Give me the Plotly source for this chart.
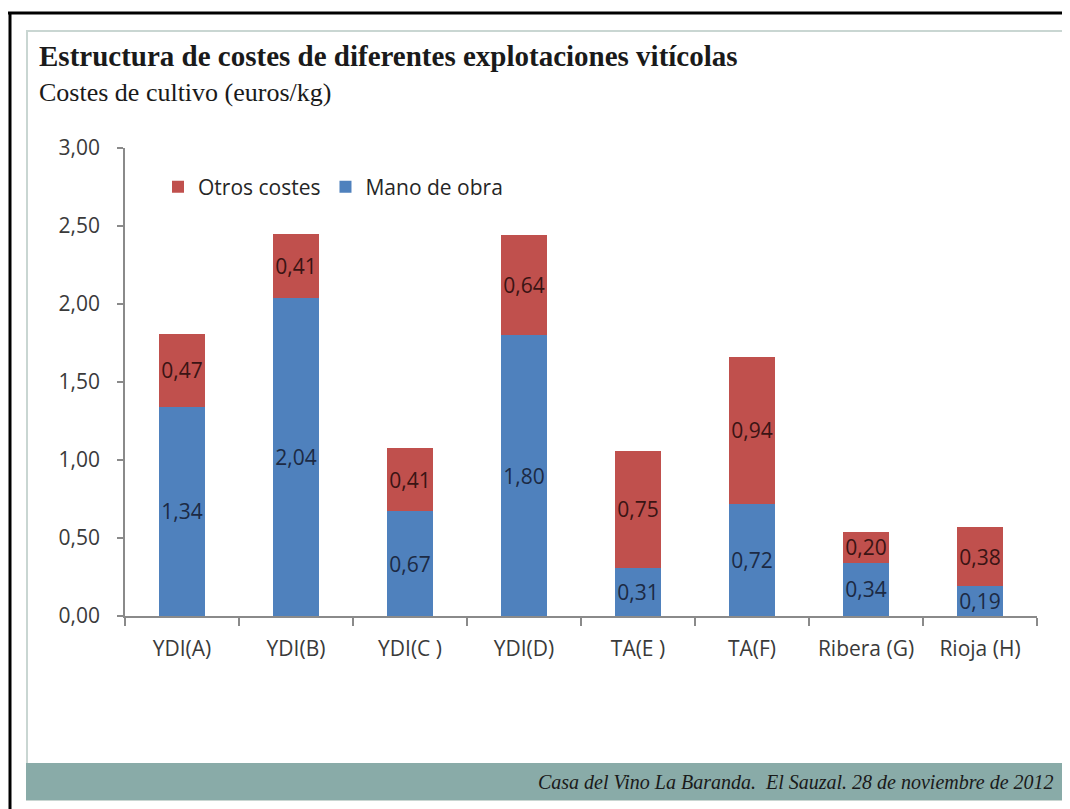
import plotly.graph_objects as go

categories = ["YDI(A)", "YDI(B)", "YDI(C )", "YDI(D)", "TA(E )", "TA(F)", "Ribera (G)", "Rioja (H)"]
mano_de_obra = [1.34, 2.04, 0.67, 1.80, 0.31, 0.72, 0.34, 0.19]
otros_costes = [0.47, 0.41, 0.41, 0.64, 0.75, 0.94, 0.20, 0.38]
y_ticks = [0, 0.5, 1.0, 1.5, 2.0, 2.5, 3.0]

# page body has an 8px margin; work in reference (screen) pixel coordinates
OFF = 8
SW, SH = 1070, 809
W, H = SW - OFF, SH - OFF
# plot area in screen pixels
X0, X1, Y0, Y1 = 125, 1037, 148, 616
L, R, T, B = X0 - OFF, W - (X1 - OFF), Y0 - OFF, H - (Y1 - OFF)
PW, PH = X1 - X0, Y1 - Y0


def px(x):
    return (x - X0) / PW


def py(y):
    return (Y1 - y) / PH


BLUE = "#4F81BD"
RED = "#C0504D"
AXIS = "#8a8a8a"
SANS = "Open Sans, Liberation Sans, sans-serif"
SERIF = "Liberation Serif, serif"
TICKFONT = dict(family=SANS, size=21, color="#3a3a3a")

fig = go.Figure()
fig.add_trace(go.Bar(
    x=categories, y=mano_de_obra, name="Mano de obra",
    marker=dict(color=BLUE, line=dict(width=0)),
    texttemplate="%{y:.2f}", textposition="inside", insidetextanchor="middle",
    textangle=0, constraintext="none",
    textfont=dict(family=SANS, size=21, color="#1c2a44"),
))
fig.add_trace(go.Bar(
    x=categories, y=otros_costes, name="Otros costes",
    marker=dict(color=RED, line=dict(width=0)),
    texttemplate="%{y:.2f}", textposition="inside", insidetextanchor="middle",
    textangle=0, constraintext="none",
    textfont=dict(family=SANS, size=21, color="#3a1414"),
))

shapes = [
    # outer black frame
    dict(type="line", xref="paper", yref="paper", x0=px(8), x1=px(1070), y0=py(13), y1=py(13),
         line=dict(color="black", width=3), layer="below"),
    dict(type="line", xref="paper", yref="paper", x0=px(10), x1=px(10), y0=py(12), y1=py(809),
         line=dict(color="black", width=3), layer="below"),
    # inner panel
    dict(type="rect", xref="paper", yref="paper", x0=px(27), x1=px(1066), y0=py(31), y1=py(800),
         line=dict(color="#c9d6d2", width=2), fillcolor="rgba(0,0,0,0)", layer="below"),
    # footer bar
    dict(type="rect", xref="paper", yref="paper", x0=px(26), x1=px(1066), y0=py(763), y1=py(800),
         line=dict(width=0), fillcolor="#89aba8", layer="below"),
]

annotations = [
    dict(text="<b>Estructura de costes de diferentes explotaciones vitícolas</b>",
         xref="paper", yref="paper", x=px(37), y=py(56), xanchor="left", yanchor="middle",
         showarrow=False, font=dict(family=SERIF, size=29, color="#1a1a1a")),
    dict(text="Costes de cultivo (euros/kg)",
         xref="paper", yref="paper", x=px(37), y=py(93), xanchor="left", yanchor="middle",
         showarrow=False, font=dict(family=SERIF, size=26, color="#1a1a1a")),
    dict(text="<i>Casa del Vino La Baranda.  El Sauzal. 28 de noviembre de 2012</i>",
         xref="paper", yref="paper", x=px(1056), y=py(782), xanchor="right", yanchor="middle",
         showarrow=False, font=dict(family=SERIF, size=20, color="#1a1a1a")),
]

fig.update_layout(
    width=W, height=H,
    margin=dict(l=L, r=R, t=T, b=B, pad=0),
    paper_bgcolor="white", plot_bgcolor="white",
    barmode="stack", bargap=0.6,
    separators=",.",
    showlegend=True,
    legend=dict(orientation="h", x=px(158), y=py(187), xanchor="left", yanchor="middle",
                traceorder="reversed", font=dict(family=SANS, size=21, color="#262626"),
                bgcolor="rgba(0,0,0,0)"),
    shapes=shapes, annotations=annotations,
    xaxis=dict(showline=True, linecolor=AXIS, linewidth=1.5, ticks="outside", tickson="boundaries",
               ticklen=8, tickcolor=AXIS, tickwidth=1.5, showgrid=False, tickfont=TICKFONT,
               ticklabelstandoff=13),
    yaxis=dict(range=[0, 3], tickvals=y_ticks, tickformat=".2f", showline=True, linecolor=AXIS,
               linewidth=1.5, ticks="outside", ticklen=6, tickcolor=AXIS, tickwidth=1.5,
               showgrid=False, zeroline=False, tickfont=TICKFONT, ticklabelstandoff=13),
)

fig.write_html("out.html")
